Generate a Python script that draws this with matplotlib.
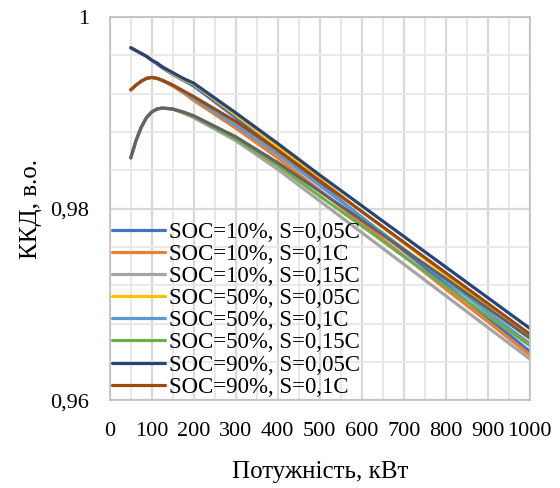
import numpy as np
from matplotlib import pyplot as plt

plt.rcParams['font.family'] = ['Liberation Serif', 'DejaVu Serif']

# power, kW
power = [50, 62.5, 75, 87.5, 100, 112.5, 125, 150, 175, 200, 300, 400, 500, 600, 700, 800, 900, 1000]

# efficiency
soc10_s005 = [0.9968, 0.9965, 0.9962, 0.9959, 0.9955, 0.9951, 0.9947, 0.9940, 0.9934, 0.9928, 0.9895, 0.9861, 0.9826, 0.9791, 0.9756, 0.9721, 0.9686, 0.9651]
soc10_s01 = [0.9924, 0.9929, 0.9933, 0.9936, 0.9937, 0.9936, 0.9934, 0.9928, 0.9921, 0.9913, 0.9884, 0.9853, 0.9819, 0.9785, 0.9751, 0.9716, 0.9682, 0.9647]
soc10_s015 = [0.9853, 0.9871, 0.9885, 0.9895, 0.9901, 0.9904, 0.9905, 0.9904, 0.9900, 0.9895, 0.9871, 0.9841, 0.9808, 0.9775, 0.9742, 0.9709, 0.9676, 0.9643]
soc50_s005 = [0.9968, 0.9965, 0.9962, 0.9959, 0.9955, 0.9952, 0.9948, 0.9941, 0.9935, 0.9930, 0.9898, 0.9865, 0.9831, 0.9797, 0.9764, 0.9731, 0.9697, 0.9664]
soc50_s01 = [0.9924, 0.9929, 0.9933, 0.9936, 0.9937, 0.9936, 0.9934, 0.9929, 0.9922, 0.9915, 0.9887, 0.9857, 0.9824, 0.9791, 0.9758, 0.9725, 0.9692, 0.9659]
soc50_s015 = [0.9853, 0.9871, 0.9885, 0.9895, 0.9901, 0.9904, 0.9905, 0.9904, 0.9900, 0.9896, 0.9873, 0.9845, 0.9813, 0.9782, 0.9750, 0.9719, 0.9688, 0.9657]
soc90_s005 = [0.9968, 0.9965, 0.9962, 0.9959, 0.9955, 0.9952, 0.9948, 0.9942, 0.9936, 0.9931, 0.9900, 0.9868, 0.9835, 0.9803, 0.9771, 0.9739, 0.9707, 0.9675]
soc90_s01 = [0.9924, 0.9929, 0.9933, 0.9936, 0.9937, 0.9936, 0.9934, 0.9929, 0.9923, 0.9917, 0.9891, 0.9861, 0.9829, 0.9797, 0.9765, 0.9733, 0.9701, 0.9669]
soc90_s015 = [0.9853, 0.9871, 0.9885, 0.9895, 0.9901, 0.9904, 0.9905, 0.9904, 0.9901, 0.9897, 0.9875, 0.9848, 0.9818, 0.9788, 0.9757, 0.9727, 0.9696, 0.9665]

series = [soc10_s005, soc10_s01, soc10_s015, soc50_s005, soc50_s01,
          soc50_s015, soc90_s005, soc90_s01, soc90_s015]
labels = ["SOC=10%, S=0,05C", "SOC=10%, S=0,1C", "SOC=10%, S=0,15C",
          "SOC=50%, S=0,05C", "SOC=50%, S=0,1C", "SOC=50%, S=0,15C",
          "SOC=90%, S=0,05C", "SOC=90%, S=0,1C", "_nolegend_"]
colors = ["#4472C4", "#ED7D31", "#A5A5A5", "#FFC000", "#5B9BD5",
          "#70AD47", "#264478", "#9E480E", "#636363"]

fig = plt.figure(figsize=(5.6, 4.88), dpi=100)
ax = fig.add_axes([0.196, 0.18, 0.75, 0.785])

for y, lab, c in zip(series, labels, colors):
    ax.plot(power, y, color=c, label=lab, linewidth=2.3,
            solid_capstyle='round', solid_joinstyle='round')

ax.set_xlim(0, 1000)
ax.set_ylim(0.96, 1.0)
ax.set_xticks(np.arange(0, 1001, 100))
ax.set_xticks(np.arange(50, 1000, 100), minor=True)
ax.set_yticks([0.96, 0.98, 1.0])
ax.set_yticks(np.arange(0.964, 1.0, 0.004), minor=True)
ax.set_yticklabels(["0,96", "0,98", "1"])
ax.tick_params(which='both', length=0, labelsize=16)
ax.tick_params(axis='y', pad=15)
ax.tick_params(axis='x', pad=16)
ax.grid(True, which='major', color='#d9d9d9', linewidth=1.6)
ax.grid(True, which='minor', color='#e8e8e8', linewidth=1.4)
ax.set_axisbelow(True)
for s in ax.spines.values():
    s.set_color('#bfbfbf')
    s.set_linewidth(1.2)

ax.set_xlabel("Потужність, кВт", fontsize=18, labelpad=14)
ax.set_ylabel("ККД, в.о.", fontsize=18, labelpad=6)

ax.legend(loc='lower left', bbox_to_anchor=(0.0, 0.0), frameon=False,
          fontsize=16.5, handlelength=2.3, handletextpad=0.2,
          labelspacing=0.05, borderpad=0.0, borderaxespad=0.1)

plt.savefig("out.png", dpi=100)
